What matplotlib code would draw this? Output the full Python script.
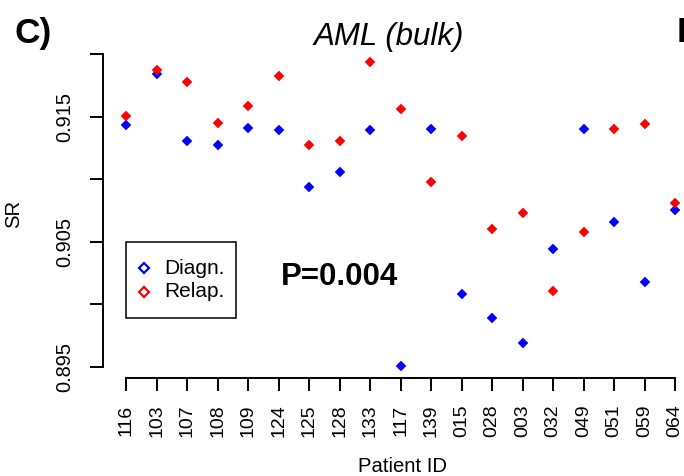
import matplotlib
matplotlib.use("Agg")
import matplotlib.pyplot as plt
from matplotlib.lines import Line2D
from matplotlib.patches import Rectangle

plt.rcParams['font.family'] = ['Liberation Sans', 'DejaVu Sans']

patients = ["116", "103", "107", "108", "109", "124", "125", "128", "133", "117",
            "139", "015", "028", "003", "032", "049", "051", "059", "064"]
diagn = [0.91434, 0.91842, 0.91309, 0.91277, 0.91408, 0.91397, 0.90936, 0.91058,
         0.91392, 0.89506, 0.91402, 0.90085, 0.89888, 0.89693, 0.90442, 0.91405,
         0.90656, 0.90178, 0.90754]
relap = [0.91504, 0.91874, 0.91778, 0.91453, 0.91589, 0.91829, 0.91277, 0.91306,
         0.91936, 0.91562, 0.90976, 0.91349, 0.90600, 0.90728, 0.90106, 0.90581,
         0.91405, 0.91440, 0.90808]
yticks = [0.895, 0.900, 0.905, 0.910, 0.915, 0.920]
yticklabels = ["0.895", "", "0.905", "", "0.915", ""]

W, H = 684, 476
fig = plt.figure(figsize=(W / 100, H / 100), dpi=100)


def fx(x):
    return x / W


def fy(y):
    return 1 - y / H


# axes in pixel coords (top-left origin)
left, right, top, bottom = 103.3, 697.0, 50.2, 378.2
ax = fig.add_axes([fx(left), fy(bottom), (right - left) / W, (bottom - top) / H])
x = list(range(len(patients)))
ax.plot(x, diagn, linestyle='none', marker='D', ms=5.3, color='#0000ff', mec='#0000ff', mew=0.3)
ax.plot(x, relap, linestyle='none', marker='D', ms=5.3, color='#ff0000', mec='#ff0000', mew=0.3)
ax.set_xlim(-0.745, 18.72)
ax.set_ylim(0.89408, 0.92032)

for s in ['top', 'right']:
    ax.spines[s].set_visible(False)
ax.spines['left'].set_bounds(0.895, 0.920)
ax.spines['bottom'].set_bounds(0, 18)
for s in ['left', 'bottom']:
    ax.spines[s].set_linewidth(1.4)

ax.set_xticks(x)
ax.set_xticklabels(patients, rotation=90, fontsize=14)
ax.set_yticks(yticks)
ax.set_yticklabels(yticklabels, rotation=90, va='center', fontsize=14.4)
ax.tick_params(axis='both', direction='out', length=9.1, width=1.4)
ax.tick_params(axis='x', pad=10)
ax.tick_params(axis='y', pad=12)

# texts
fig.text(fx(389), fy(45), "AML (bulk)", fontsize=22.5, style='italic', ha='center', va='baseline')
fig.text(fx(15), fy(43.5), "C)", fontsize=25.5, fontweight='bold', ha='left', va='baseline')
fig.text(fx(677), fy(42.5), "D", fontsize=25.5, fontweight='bold', ha='left', va='baseline')
fig.text(fx(339.5), fy(285), "P=0.004", fontsize=22.5, fontweight='bold', ha='center', va='baseline')
fig.text(fx(402), fy(472.5), "Patient ID", fontsize=14.6, ha='center', va='baseline')
fig.text(fx(23.3), fy(213.5), "SR", fontsize=14.6, rotation=90, ha='right', va='center')

# legend box
fig.add_artist(Rectangle((fx(125.7), fy(318.3)), (235.7 - 125.7) / W, (318.3 - 242.3) / H,
                         transform=fig.transFigure, fill=False, edgecolor='black', linewidth=1.1))
for yy, col, lab in [(268.3, '#0000ff', "Diagn."), (291.7, '#ff0000', "Relap.")]:
    fig.add_artist(Line2D([fx(144)], [fy(yy)], transform=fig.transFigure, marker='D', ms=5.6,
                          mfc='none', mec=col, mew=1.6, linestyle='none'))
    fig.text(fx(164), fy(yy), lab, fontsize=15, ha='left', va='center')

fig.savefig("out.png", dpi=100)
